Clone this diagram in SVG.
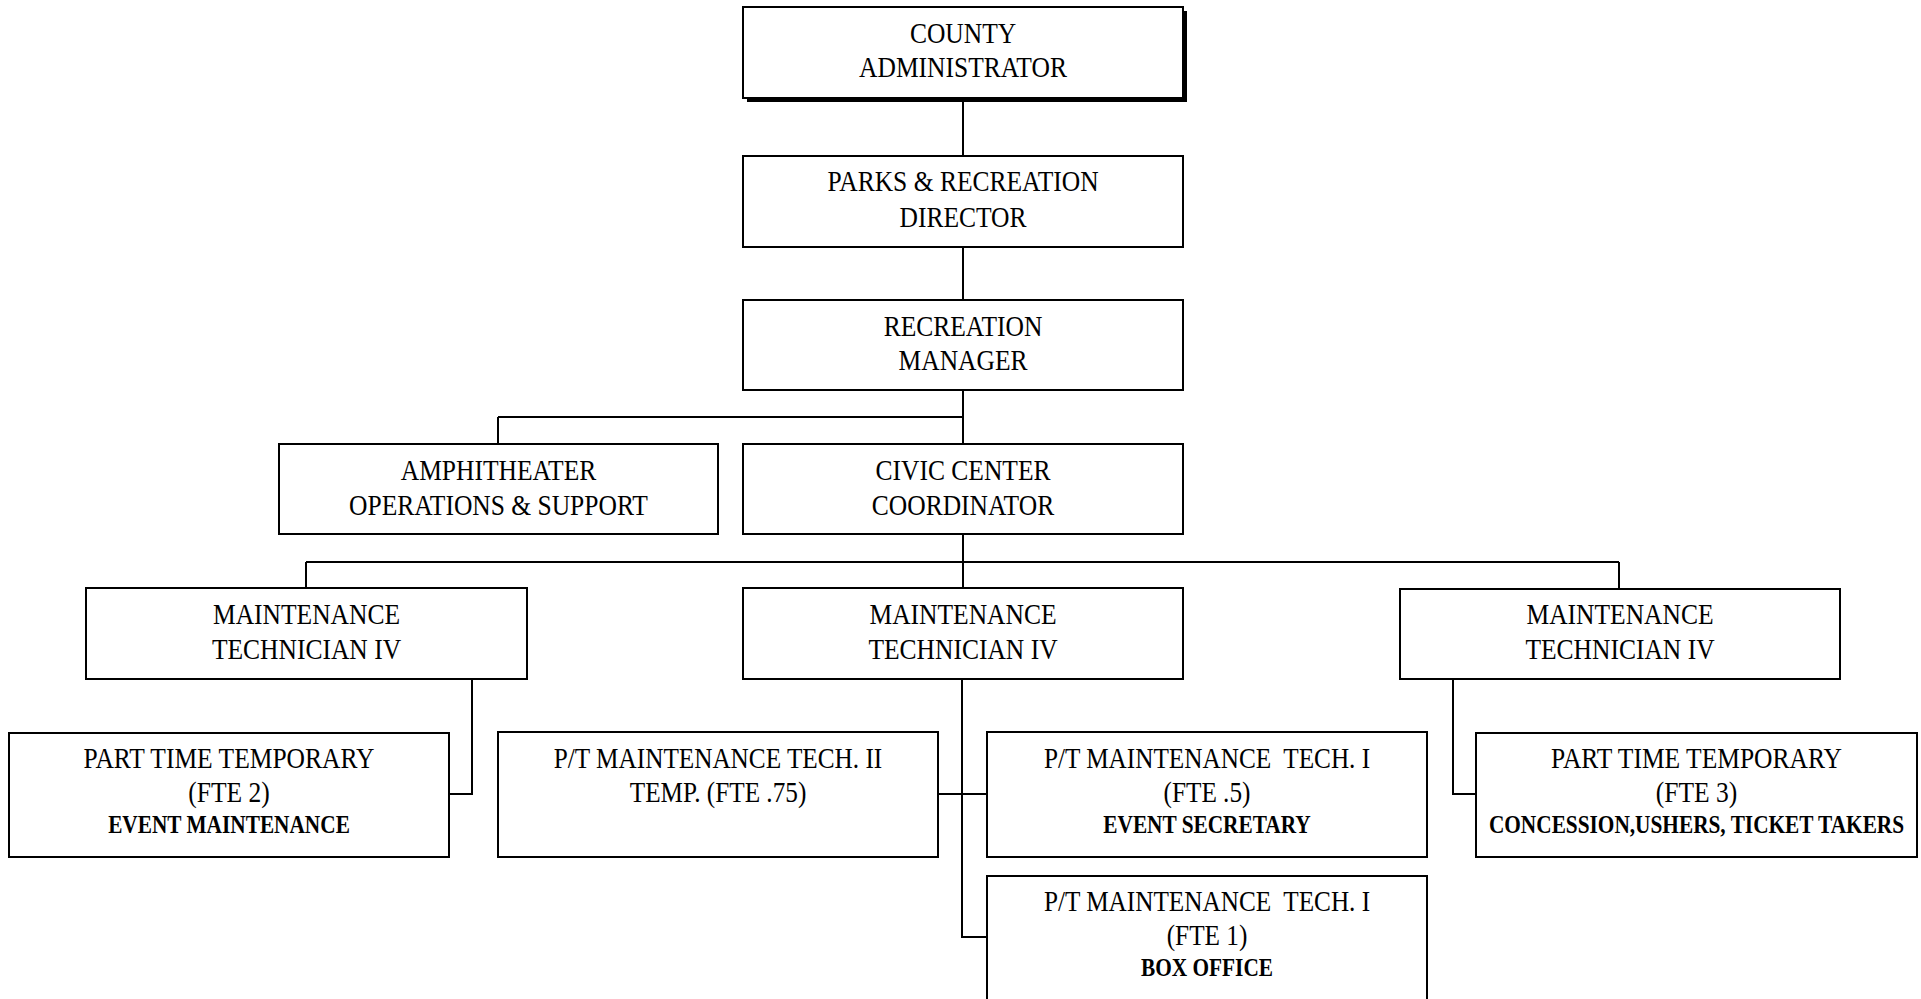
<svg xmlns="http://www.w3.org/2000/svg" width="1921" height="999" viewBox="0 0 1921 999">
<style>
.bx{fill:#fff;stroke:#000;stroke-width:2}
.sh{fill:#000}
.t{font-family:"Liberation Serif","Times New Roman",serif;font-size:29px;text-anchor:middle;fill:#000;white-space:pre}
.b{font-family:"Liberation Serif","Times New Roman",serif;font-size:24.5px;font-weight:bold;text-anchor:middle;fill:#000;white-space:pre}
.c{fill:none;stroke:#000;stroke-width:2}
</style>
<rect width="1921" height="999" fill="#fff"/>
<g id="connectors">
<path class="c" d="M963,98V156M963,247V300M963,390V444M498,417H963M498,417V444"/>
<path class="c" d="M963,534V588M306,562H1619M306,562V588M1619,562V589"/>
<path class="c" d="M472,679V794H449"/>
<path class="c" d="M962,679V937H987M938,794H987"/>
<path class="c" d="M1453,679V794H1476"/>
</g>
<g id="county">
<rect class="sh" x="747" y="11" width="440" height="91"/>
<rect class="bx" x="743" y="7" width="440" height="91"/>
<text class="t" transform="translate(963,43) scale(0.88,1)">COUNTY</text>
<text class="t" transform="translate(963,77) scale(0.88,1)">ADMINISTRATOR</text>
</g>
<g id="parks">
<rect class="bx" x="743" y="156" width="440" height="91"/>
<text class="t" transform="translate(963,191) scale(0.88,1)">PARKS &amp; RECREATION</text>
<text class="t" transform="translate(963,227) scale(0.88,1)">DIRECTOR</text>
</g>
<g id="recmgr">
<rect class="bx" x="743" y="300" width="440" height="90"/>
<text class="t" transform="translate(963,336) scale(0.88,1)">RECREATION</text>
<text class="t" transform="translate(963,370) scale(0.88,1)">MANAGER</text>
</g>
<g id="amphi">
<rect class="bx" x="279" y="444" width="439" height="90"/>
<text class="t" transform="translate(498.5,480) scale(0.88,1)">AMPHITHEATER</text>
<text class="t" transform="translate(498.5,515) scale(0.88,1)">OPERATIONS &amp; SUPPORT</text>
</g>
<g id="civic">
<rect class="bx" x="743" y="444" width="440" height="90"/>
<text class="t" transform="translate(963,480) scale(0.88,1)">CIVIC CENTER</text>
<text class="t" transform="translate(963,515) scale(0.88,1)">COORDINATOR</text>
</g>
<g id="maint-left">
<rect class="bx" x="86" y="588" width="441" height="91"/>
<text class="t" transform="translate(306.5,624) scale(0.88,1)">MAINTENANCE</text>
<text class="t" transform="translate(306.5,659) scale(0.88,1)">TECHNICIAN IV</text>
</g>
<g id="maint-mid">
<rect class="bx" x="743" y="588" width="440" height="91"/>
<text class="t" transform="translate(963,624) scale(0.88,1)">MAINTENANCE</text>
<text class="t" transform="translate(963,659) scale(0.88,1)">TECHNICIAN IV</text>
</g>
<g id="maint-right">
<rect class="bx" x="1400" y="589" width="440" height="90"/>
<text class="t" transform="translate(1620,624) scale(0.88,1)">MAINTENANCE</text>
<text class="t" transform="translate(1620,659) scale(0.88,1)">TECHNICIAN IV</text>
</g>
<g id="pt-left">
<rect class="bx" x="9" y="733" width="440" height="124"/>
<text class="t" transform="translate(229,768) scale(0.88,1)">PART TIME TEMPORARY</text>
<text class="t" transform="translate(229,802) scale(0.88,1)">(FTE 2)</text>
<text class="b" transform="translate(229,833) scale(0.87,1)">EVENT MAINTENANCE</text>
</g>
<g id="pt-tech2">
<rect class="bx" x="498" y="732" width="440" height="125"/>
<text class="t" transform="translate(718,768) scale(0.87,1)">P/T MAINTENANCE TECH. II</text>
<text class="t" transform="translate(718,802) scale(0.87,1)">TEMP. (FTE .75)</text>
</g>
<g id="pt-tech1-a">
<rect class="bx" x="987" y="732" width="440" height="125"/>
<text class="t" transform="translate(1207,768) scale(0.87,1)">P/T MAINTENANCE  TECH. I</text>
<text class="t" transform="translate(1207,802) scale(0.87,1)">(FTE .5)</text>
<text class="b" transform="translate(1207,833) scale(0.87,1)">EVENT SECRETARY</text>
</g>
<g id="pt-tech1-b">
<rect class="bx" x="987" y="876" width="440" height="126"/>
<text class="t" transform="translate(1207,911) scale(0.87,1)">P/T MAINTENANCE  TECH. I</text>
<text class="t" transform="translate(1207,945) scale(0.87,1)">(FTE 1)</text>
<text class="b" transform="translate(1207,976) scale(0.87,1)">BOX OFFICE</text>
</g>
<g id="pt-right">
<rect class="bx" x="1476" y="733" width="441" height="124"/>
<text class="t" transform="translate(1696.5,768) scale(0.88,1)">PART TIME TEMPORARY</text>
<text class="t" transform="translate(1696.5,802) scale(0.88,1)">(FTE 3)</text>
<text class="b" transform="translate(1696.5,833) scale(0.87,1)">CONCESSION,USHERS, TICKET TAKERS</text>
</g>
</svg>
